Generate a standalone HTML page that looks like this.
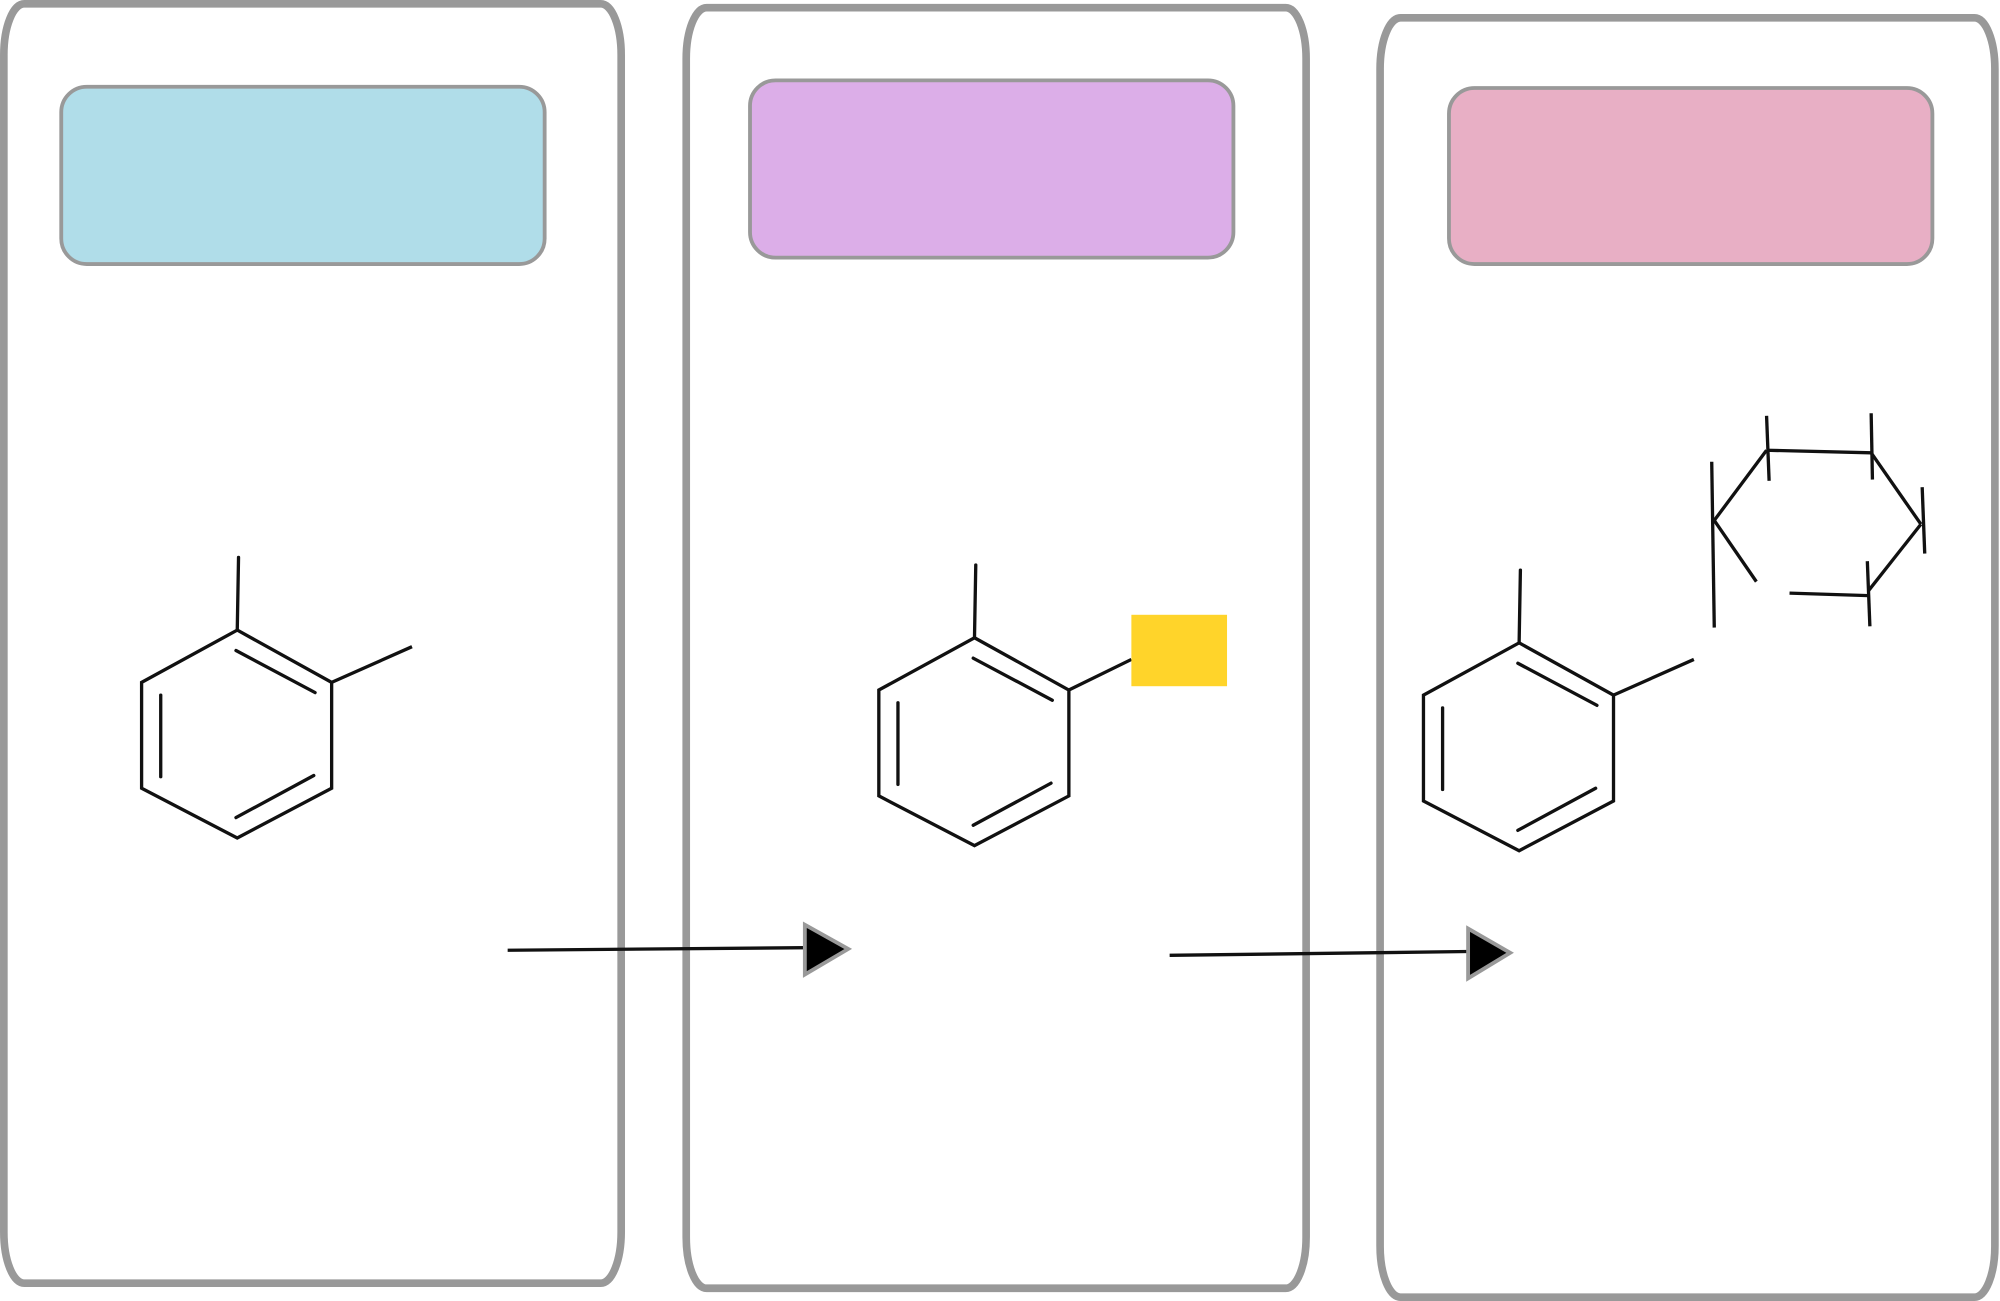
<!DOCTYPE html>
<html><head><meta charset="utf-8"><style>html,body{margin:0;padding:0;background:#fff}svg{display:block}</style></head>
<body>
<svg width="2000" height="1301" viewBox="0 0 1568 1020" xmlns="http://www.w3.org/2000/svg">
<g fill="none" stroke="#999" stroke-width="6">
<rect x="3" y="3" width="484" height="1003" rx="16" ry="40"/>
<rect x="538" y="6" width="486" height="1004" rx="16" ry="40"/>
<rect x="1082" y="14" width="482" height="1003" rx="16" ry="40"/>
</g>
<g stroke="#999" stroke-width="3">
<rect x="48" y="68" width="379" height="139" rx="20" fill="#b0dde9"/>
<rect x="588" y="63" width="379" height="139" rx="20" fill="#dcaee8"/>
<rect x="1136" y="69" width="379" height="138" rx="20" fill="#e8afc5"/>
</g>
<defs>
<g id="benz" fill="none" stroke="#111" stroke-width="2.6" stroke-linecap="round">
<polygon points="186,494 260,535 260,618 186,657 111,618 111,535"/>
<line x1="186" y1="494" x2="187" y2="437"/>
<line x1="185" y1="510" x2="247" y2="543"/>
<line x1="126" y1="545" x2="126" y2="609"/>
<line x1="185" y1="641" x2="246" y2="608"/>
</g>
</defs>
<use href="#benz"/>
<line x1="260" y1="535" x2="323" y2="507" stroke="#111" stroke-width="2.6"/>
<use href="#benz" transform="translate(578,6)"/>
<line x1="838" y1="541" x2="887" y2="517" stroke="#111" stroke-width="2.6"/>
<rect x="887" y="482" width="75" height="56" fill="#ffd42a"/>
<use href="#benz" transform="translate(1005,10)"/>
<line x1="1265" y1="545" x2="1328" y2="517" stroke="#111" stroke-width="2.6"/>
<g stroke="#111" stroke-width="2.6" fill="none">
<line x1="1385" y1="353" x2="1467" y2="355"/>
<line x1="1467" y1="355" x2="1506" y2="411"/>
<line x1="1506" y1="411" x2="1465" y2="463"/>
<line x1="1403" y1="465" x2="1465" y2="467"/>
<line x1="1344" y1="408" x2="1385" y2="353"/>
<line x1="1344" y1="408" x2="1377" y2="456"/>
<line x1="1385" y1="326" x2="1387" y2="377"/>
<line x1="1467" y1="324" x2="1468" y2="376"/>
<line x1="1507" y1="382" x2="1509" y2="434"/>
<line x1="1464" y1="440" x2="1466" y2="491"/>
<line x1="1342" y1="362" x2="1344" y2="492"/>
</g>
<line x1="398" y1="745" x2="631" y2="743" stroke="#111" stroke-width="2.6"/>
<polygon points="631,725 631,764 665,744" fill="#000" stroke="#999" stroke-width="3"/>
<line x1="917" y1="749" x2="1151" y2="746" stroke="#111" stroke-width="2.6"/>
<polygon points="1151,728 1151,767 1184,747" fill="#000" stroke="#999" stroke-width="3"/>
</svg>
</body></html>
